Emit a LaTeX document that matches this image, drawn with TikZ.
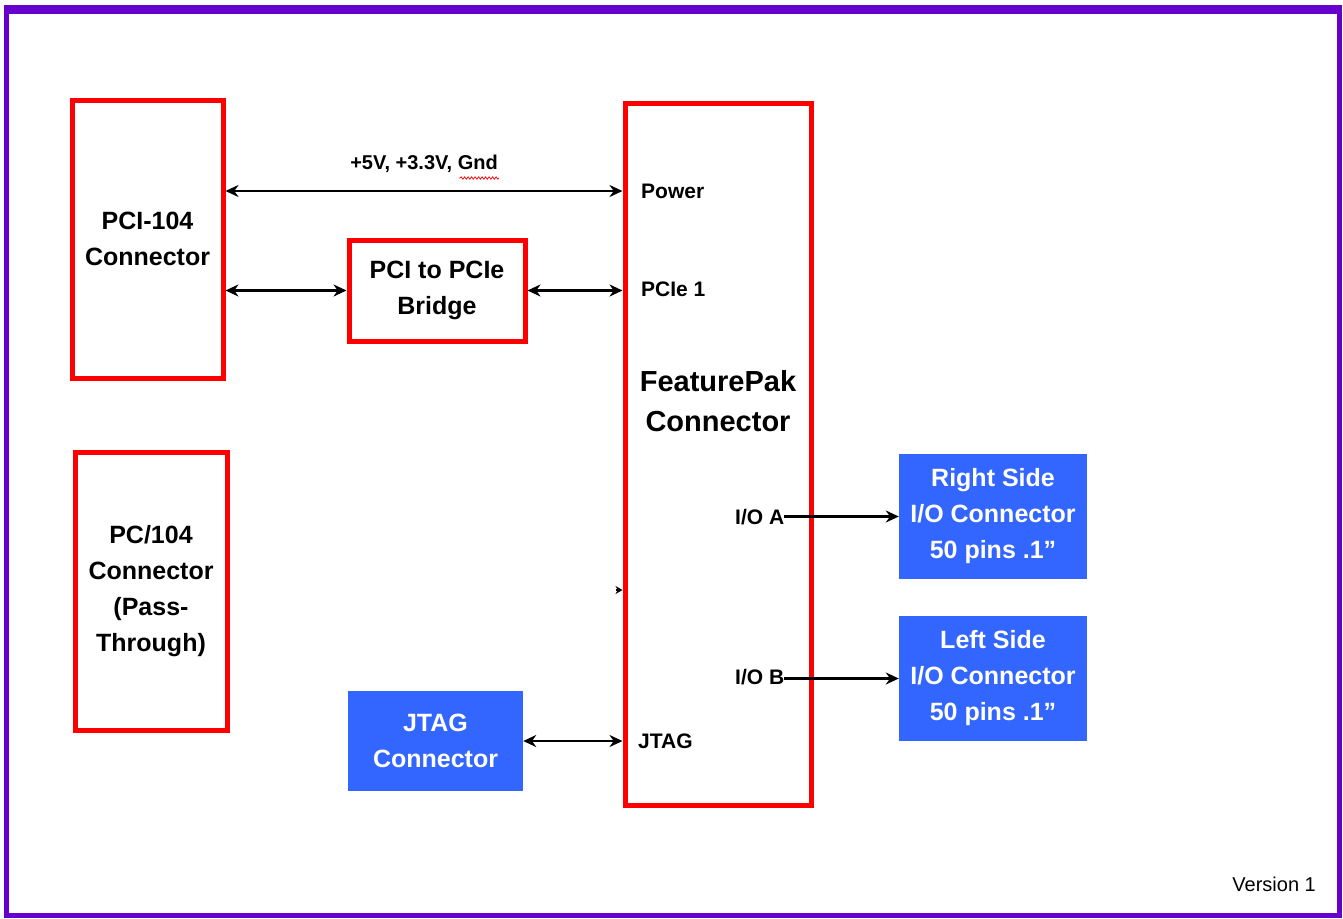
\documentclass[tikz,border=0pt]{standalone}
\usepackage{fontspec}
\setmainfont{Liberation Sans}
\usetikzlibrary{arrows.meta,decorations.pathmorphing}
\definecolor{frameP}{HTML}{6600CC}
\definecolor{boxR}{HTML}{FF0000}
\definecolor{boxB}{HTML}{3366FF}
\tikzset{
  redbox/.style={draw=boxR,line width=5pt,fill=white,align=center,font=\fontsize{25}{36}\selectfont\bfseries,inner sep=0pt},
  bluebox/.style={fill=boxB,draw=none,align=center,text=white,font=\fontsize{25}{36}\selectfont\bfseries,inner sep=0pt},
  port/.style={font=\fontsize{21}{25}\selectfont\bfseries,inner sep=0pt},
  link/.style={line width=2.4pt,{Stealth[length=13pt,width=12pt]}-{Stealth[length=13pt,width=12pt]}},
  onelink/.style={line width=2.4pt,-{Stealth[length=13pt,width=12pt]}},
}
\begin{document}
\begin{tikzpicture}[x=1pt,y=-1pt]
\useasboundingbox (0,0) rectangle (1343,918);
% frame
\draw[frameP,line width=5pt] (6,10) rectangle (1339,915);
\fill[frameP] (3.5,5) rectangle (1341.5,14);
% boxes
\node[redbox,minimum width=151pt,minimum height=278pt] (pci) at (147.5,239) {PCI-104\\Connector};
\node[redbox,minimum width=152pt,minimum height=278pt] (pc) at (151,591) {PC/104\\Connector\\(Pass-\\Through)};
\node[redbox,minimum width=176pt,minimum height=101pt] (br) at (437,290.5) {PCI to PCIe\\Bridge};
\node[redbox,minimum width=186pt,minimum height=702pt] (fp) at (718,454) {};
\node[font=\fontsize{29}{40}\selectfont\bfseries,align=center,inner sep=0pt] (fpl) at (718,401) {FeaturePak\\Connector};
\node[bluebox,minimum width=188pt,minimum height=125pt] (rs) at (993,516.5) {Right Side\\I/O Connector\\50 pins .1\char"201D};
\node[bluebox,minimum width=188pt,minimum height=125pt] (ls) at (993,678.5) {Left Side\\I/O Connector\\50 pins .1\char"201D};
\node[bluebox,minimum width=175pt,minimum height=100pt] (jt) at (435.5,741) {JTAG\\Connector};
% port labels
\node[port,anchor=west] (pwr) at (641,191) {Power};
\node[port,anchor=west] (pcie) at (641,289) {PCIe 1};
\node[port,anchor=west] (ioa) at (735,517) {I/O A};
\node[port,anchor=west] (iob) at (735,677) {I/O B};
\node[port,anchor=west] (jtl) at (638,741) {JTAG};
% connectors
\draw[link] (pci.east |- pwr) -- node[above=17pt,font=\fontsize{20}{24}\selectfont\bfseries,inner sep=0pt] (vl) {+5V, +3.3V, Gnd} (fp.west |- pwr);
\draw[link] (pci.east |- br) -- (br.west);
\draw[link] (br.east) -- (fp.west |- br);
\draw[link] (jt.east) -- (fp.west |- jt);
\draw[onelink] (ioa.east |- rs) -- (rs.west);
\draw[onelink] (iob.east |- ls) -- (ls.west);
\coordinate (stray) at (616,590);
\draw[line width=1.5pt,-{Stealth[length=7pt,width=8pt]}] (stray) -- (fp.west |- stray);
\draw[red,line width=0.7pt,decorate,decoration={snake,amplitude=1.2pt,segment length=3.5pt}] (vl.south east) ++(0,4) -- ++(-40,0);
% version
\node[font=\fontsize{20}{24}\selectfont,anchor=east,inner sep=0pt] (ver) at (1316,884) {Version 1};
\end{tikzpicture}
\end{document}
